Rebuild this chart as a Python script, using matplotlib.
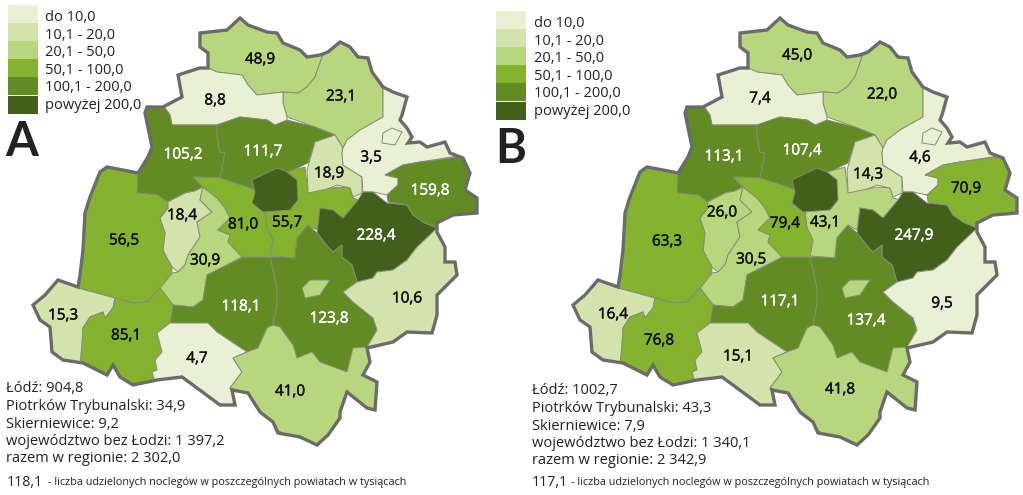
import numpy as np
import matplotlib
matplotlib.use('Agg')
import matplotlib.pyplot as plt
import matplotlib.patheffects as pe
from matplotlib.patches import Polygon, Rectangle

plt.rcParams['font.family'] = ['Open Sans', 'DejaVu Sans']

# klasy legendy
class_labels = ['do 10,0', '10,1 - 20,0', '20,1 - 50,0', '50,1 - 100,0', '100,1 - 200,0', 'powyżej 200,0']
class_limits = [10, 20, 50, 100, 200]
class_colors = ['#E9F0D4', '#D2E4AC', '#B8D67E', '#86B32F', '#628B24', '#425F1B']

# powiaty (kolejnosc rysowania taka sama jak w listach wartosci)
names = ['n1', 'n2', 'n3', 'w1', 'c1', 'e1', 'e2', 'c4', 'se', 'e3', 'cw', 'c3',
         'w2', 'c2', 's1', 'sw1', 'sw2', 's2', 's3', 's4', 'c5', 'city', 'piotrkow', 'skier']
values_a = [48.9, 23.1, 8.8, 105.2, 111.7, 18.9, 3.5, 55.7, 228.4, 159.8, 18.4, 30.9,
            56.5, 118.1, 123.8, 15.3, 85.1, 4.7, 41.0, 10.6, 81.0, 904.8, 34.9, 9.2]
values_b = [45.0, 22.0, 7.4, 113.1, 107.4, 14.3, 4.6, 43.1, 247.9, 70.9, 26.0, 30.5,
            63.3, 117.1, 137.4, 16.4, 76.8, 15.1, 41.8, 9.5, 79.4, 1002.7, 43.3, 7.9]

labels_a = ['48,9', '23,1', '8,8', '105,2', '111,7', '18,9', '3,5', '55,7', '228,4', '159,8', '18,4',
            '30,9', '56,5', '118,1', '123,8', '15,3', '85,1', '4,7', '41,0', '10,6', '81,0']
labels_b = ['45,0', '22,0', '7,4', '113,1', '107,4', '14,3', '4,6', '43,1', '247,9', '70,9', '26,0',
            '30,5', '63,3', '117,1', '137,4', '16,4', '76,8', '15,1', '41,8', '9,5', '79,4']
label_xy_a = [(260, 60), (341, 97), (215, 101), (183, 155), (263, 152), (329, 174), (371, 158), (287, 223),
              (376, 236), (430, 191), (182, 216), (205, 261), (124, 241), (241, 307), (329, 319), (63, 316),
              (126, 336), (197, 359), (290, 392), (407, 299), (243, 225)]
label_xy_b = [(797, 56), (882, 95), (760, 99), (724, 157), (802, 151), (868, 175), (920, 158), (825, 223),
              (914, 236), (966, 189), (722, 213), (751, 260), (667, 242), (780, 302), (866, 321), (613, 315),
              (659, 341), (738, 357), (840, 390), (942, 304), (785, 224)]

notes_a = ['Łódź: 904,8', 'Piotrków Trybunalski: 34,9', 'Skierniewice: 9,2',
           'województwo bez Łodzi: 1 397,2', 'razem w regionie: 2 302,0']
notes_b = ['Łódź: 1002,7', 'Piotrków Trybunalski: 43,3', 'Skierniewice: 7,9',
           'województwo bez Łodzi: 1 340,1', 'razem w regionie: 2 342,9']
caption = '- liczba udzielonych noclegów w poszczególnych powiatach w tysiącach'

# granica wojewodztwa, piksele mapy A
outline = [(240, 18), (248, 25), (267, 32), (277, 33), (283, 43), (300, 50), (307, 57), (320, 55), (328, 52),
           (340, 42), (350, 47), (358, 57), (368, 58), (372, 72), (383, 87), (393, 92), (407, 97), (402, 115),
           (400, 120), (407, 128), (412, 137), (408, 143), (420, 142), (427, 147), (445, 142), (450, 153),
           (463, 158), (470, 173), (465, 190), (477, 198), (477, 213), (453, 215), (437, 223), (437, 232),
           (445, 247), (445, 262), (455, 262), (457, 275), (437, 295), (437, 315), (432, 333), (407, 332),
           (393, 342), (367, 348), (370, 362), (363, 375), (377, 382), (375, 410), (367, 408), (347, 392),
           (340, 412), (340, 418), (328, 435), (317, 445), (300, 437), (278, 433), (273, 422), (260, 412),
           (248, 393), (232, 390), (235, 405), (220, 405), (197, 388), (182, 377), (157, 380), (133, 385),
           (120, 377), (113, 365), (107, 375), (83, 363), (63, 360), (52, 352), (50, 327), (40, 320), (33, 305),
           (45, 295), (58, 280), (78, 287), (80, 275), (83, 250), (85, 213), (90, 197), (100, 172), (107, 167),
           (123, 170), (138, 173), (148, 157), (152, 147), (145, 113), (147, 107), (163, 107), (182, 97),
           (178, 75), (200, 68), (208, 68), (208, 53), (200, 47), (200, 33), (227, 30)]

# ksztalty powiatow, moga wychodzic poza granice bo sa przycinane
shapes = {
    'n1': [(190, 25), (245, 5), (325, 45), (322, 57), (315, 77), (307, 87), (298, 93), (283, 92), (257, 95),
           (248, 85), (242, 75), (217, 72), (208, 68), (190, 60)],
    'n2': [(322, 57), (325, 45), (345, 30), (390, 80), (383, 87), (383, 100), (383, 117), (360, 130), (347, 140),
           (343, 148), (335, 135), (315, 127), (287, 117), (283, 103), (283, 92), (298, 93), (307, 87), (315, 77)],
    'n3': [(208, 68), (217, 72), (242, 75), (248, 85), (257, 95), (283, 92), (283, 103), (287, 117), (287, 122),
           (275, 125), (267, 120), (240, 117), (217, 125), (190, 125), (172, 125), (170, 115), (165, 108),
           (160, 95), (175, 60), (208, 55)],
    'w1': [(165, 108), (170, 115), (172, 125), (190, 125), (217, 125), (217, 137), (220, 152), (225, 153),
           (220, 178), (193, 177), (203, 187), (195, 191), (185, 193), (167, 202), (158, 195), (137, 193),
           (130, 190), (135, 100), (160, 100)],
    'c1': [(217, 125), (240, 117), (267, 120), (275, 125), (287, 120), (315, 127), (335, 135), (315, 142),
           (308, 163), (287, 173), (277, 168), (255, 190), (247, 187), (220, 178), (225, 153), (220, 152),
           (217, 137)],
    'e1': [(315, 142), (335, 135), (343, 148), (342, 153), (343, 165), (362, 177), (362, 193), (353, 197),
           (350, 188), (337, 185), (320, 192), (305, 195), (308, 190), (307, 170)],
    'e2': [(383, 87), (395, 75), (425, 100), (425, 135), (455, 135), (458, 156), (420, 162), (403, 165),
           (385, 175), (398, 178), (398, 185), (387, 195), (373, 192), (363, 192), (362, 177), (343, 165),
           (342, 153), (343, 148), (347, 140), (360, 130), (383, 117), (383, 100)],
    'c4': [(280, 190), (287, 172), (305, 167), (308, 193), (337, 187), (350, 188), (353, 198), (360, 200),
           (343, 218), (320, 208), (317, 230), (308, 225), (297, 238), (295, 258), (282, 257), (270, 256),
           (273, 240), (267, 228), (265, 212)],
    'se': [(358, 200), (363, 192), (373, 192), (387, 203), (407, 205), (413, 215), (423, 222), (437, 228),
           (433, 240), (417, 247), (407, 260), (393, 270), (377, 272), (373, 278), (357, 282), (352, 265),
           (342, 257), (342, 245), (333, 252), (328, 247), (317, 233), (320, 208), (333, 210), (343, 218)],
    'e3': [(385, 175), (403, 165), (420, 162), (450, 158), (490, 150), (490, 215), (437, 228), (423, 222),
           (413, 215), (407, 205), (388, 202), (387, 195), (398, 185), (398, 178)],
    'cw': [(203, 187), (195, 191), (185, 193), (168, 202), (168, 208), (160, 218), (165, 233), (163, 250),
           (167, 258), (172, 267), (178, 272), (185, 265), (188, 255), (200, 237), (197, 222), (212, 212),
           (200, 200)],
    'c3': [(203, 187), (217, 198), (225, 208), (230, 218), (218, 230), (230, 235), (228, 242), (242, 257),
           (227, 265), (207, 275), (203, 300), (193, 307), (173, 305), (160, 288), (172, 273), (178, 272),
           (185, 265), (188, 255), (200, 237), (197, 222), (212, 212), (200, 200)],
    'w2': [(105, 160), (138, 173), (137, 193), (158, 195), (167, 202), (168, 208), (160, 218), (165, 233),
           (163, 250), (167, 258), (172, 267), (172, 273), (160, 288), (147, 302), (133, 303), (115, 298),
           (78, 288), (70, 280), (75, 210)],
    'c2': [(207, 275), (227, 265), (243, 257), (270, 257), (272, 265), (277, 288), (277, 305), (273, 325),
           (267, 328), (258, 348), (247, 352), (217, 332), (208, 323), (170, 323), (173, 305), (193, 307),
           (203, 300)],
    's1': [(270, 257), (282, 257), (295, 258), (297, 238), (308, 225), (317, 233), (328, 247), (333, 252),
           (342, 245), (342, 257), (352, 265), (357, 282), (343, 292), (353, 302), (373, 318), (377, 330),
           (367, 347), (353, 348), (347, 372), (320, 362), (312, 352), (297, 358), (293, 345), (280, 327),
           (273, 325), (277, 305), (277, 288), (272, 265)],
    'sw1': [(78, 288), (115, 298), (113, 308), (105, 318), (103, 312), (90, 317), (83, 328), (82, 345), (80, 368),
            (40, 365), (20, 310), (50, 270)],
    'sw2': [(115, 298), (133, 303), (147, 302), (160, 288), (173, 305), (170, 323), (157, 333), (162, 352),
            (155, 360), (157, 370), (152, 372), (155, 382), (130, 395), (75, 375), (80, 365), (82, 345),
            (83, 328), (90, 317), (103, 312), (105, 318), (113, 308)],
    's2': [(157, 333), (170, 323), (208, 323), (217, 332), (247, 352), (233, 358), (242, 372), (230, 388),
           (240, 412), (150, 395), (155, 382), (152, 372), (157, 370), (155, 360), (162, 352)],
    's3': [(247, 352), (258, 348), (267, 328), (273, 325), (280, 327), (293, 345), (297, 358), (312, 352),
           (320, 362), (347, 372), (353, 348), (367, 347), (385, 375), (385, 420), (320, 455), (260, 420),
           (248, 393), (230, 388), (242, 372), (233, 358)],
    's4': [(437, 228), (417, 247), (407, 260), (393, 270), (377, 272), (373, 278), (357, 282), (343, 292),
           (353, 302), (373, 318), (377, 330), (367, 347), (400, 360), (470, 340), (470, 250), (450, 225)],
    'c5': [(193, 177), (220, 178), (247, 187), (255, 190), (263, 212), (265, 212), (267, 228), (273, 240),
           (270, 257), (242, 257), (228, 242), (230, 235), (218, 230), (230, 218), (225, 208), (217, 198),
           (203, 187)],
    'city': [(252, 180), (277, 168), (287, 172), (297, 180), (298, 200), (290, 210), (263, 212), (252, 203),
             (255, 192)],
    'piotrkow': [(302, 288), (310, 280), (330, 280), (320, 295), (305, 298)],
    'skier': [(382, 143), (383, 133), (392, 128), (402, 132), (395, 145)],
}


def class_color(value):
    return class_colors[np.searchsorted(class_limits, value, side='left')]


def draw_map(ax, dx, values):
    # jedna mapa, przesunieta o dx w poziomie
    clip = Polygon(np.array(outline) + [dx, 0], closed=True, transform=ax.transData)
    for i, name in enumerate(names):
        p = Polygon(np.array(shapes[name]) + [dx, 0], closed=True, fc=class_color(values[i]),
                    ec='#848c78', lw=0.7, zorder=2 + i * 0.01)
        ax.add_patch(p)
        p.set_clip_path(clip)
    ax.add_patch(Polygon(np.array(outline) + [dx, 0], closed=True, fc='none', ec='#6b6b6b', lw=2.4, zorder=5))


def draw_legend(ax, x, y, text_x):
    for i, (lab, col) in enumerate(zip(class_labels, class_colors)):
        ax.add_patch(Rectangle((x, y + i * 18.1), 30, 18.1, fc=col, ec='none'))
        ax.text(text_x, y + 12.5 + i * 17.6, lab, fontsize=10.5, color='#222222', va='center', ha='left')


def draw_labels(ax, labels, positions, values):
    for lab, (x, y), val in zip(labels, positions, values):
        col = 'white' if val > 100 else '#111111'
        t = ax.text(x, y, lab, fontsize=11, color=col, ha='center', va='center', zorder=6)
        t.set_path_effects([pe.withStroke(linewidth=0.3, foreground=col)])


fig = plt.figure(figsize=(10.23, 4.95), dpi=100)
ax = fig.add_axes([0, 0, 1, 1])
ax.set_xlim(0, 1023)
ax.set_ylim(495, 0)
ax.axis('off')

draw_map(ax, 0, values_a)
draw_map(ax, 540, values_b)
draw_legend(ax, 8, 5, 45)
draw_legend(ax, 496, 11, 534)

ax.text(5, 142, 'A', fontsize=34, family='Lato', weight='bold', color='#222222', va='center')
ax.text(495, 149, 'B', fontsize=34, family='Lato', weight='bold', color='#222222', va='center')

draw_labels(ax, labels_a, label_xy_a, values_a)
draw_labels(ax, labels_b, label_xy_b, values_b)

for i, line in enumerate(notes_a):
    ax.text(6, 389 + i * 17.5, line, fontsize=10.5, color='#222222', va='center', ha='left', zorder=6)
for i, line in enumerate(notes_b):
    ax.text(532, 391 + i * 17.5, line, fontsize=10.5, color='#222222', va='center', ha='left', zorder=6)

ax.text(7, 483, '118,1', fontsize=10.2, color='#222222', va='center', ha='left')
ax.text(48, 483, caption, fontsize=7.85, color='#222222', va='center', ha='left')
ax.text(532, 482, '117,1', fontsize=10.2, color='#222222', va='center', ha='left')
ax.text(571, 482, caption, fontsize=7.85, color='#222222', va='center', ha='left')

fig.savefig('out.png', dpi=100)
